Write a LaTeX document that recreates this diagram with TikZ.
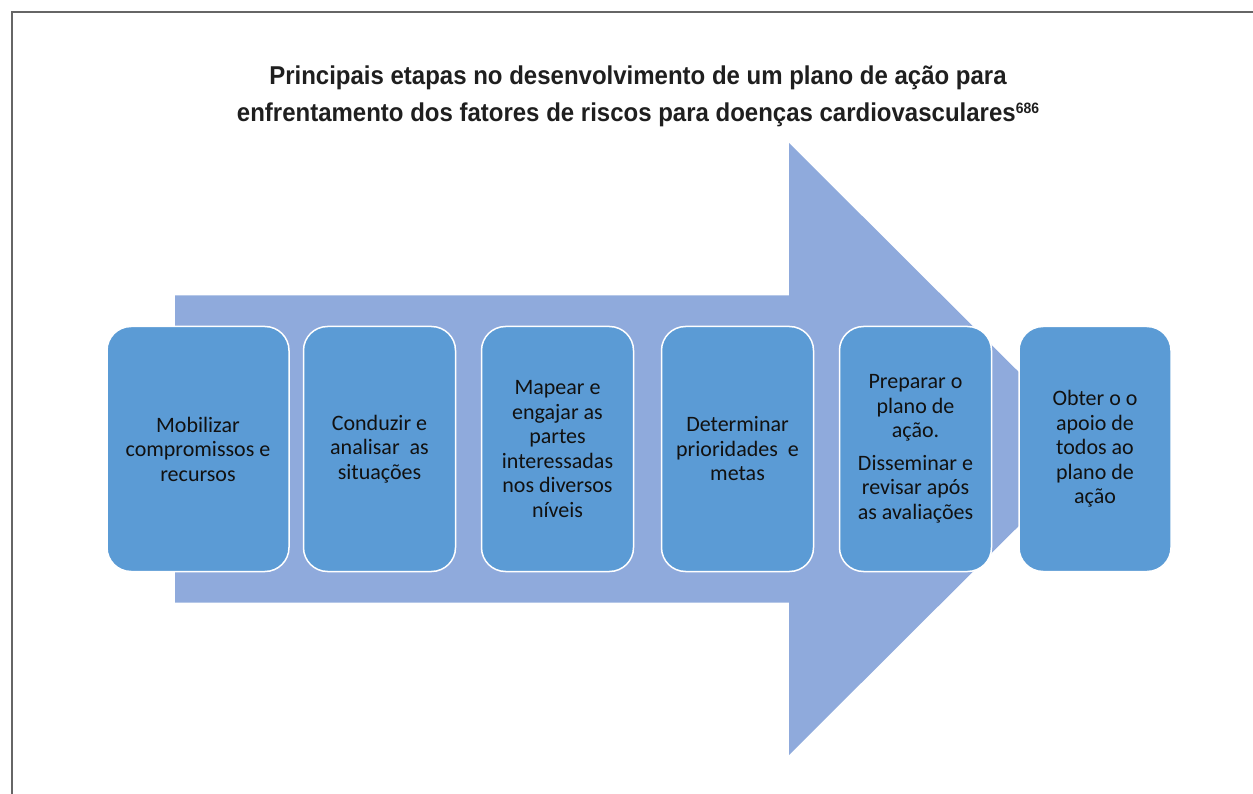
\documentclass[tikz,border=0pt]{standalone}
\usepackage{fontspec}
\usepackage{xcolor}
\setmainfont{Carlito}
\newfontfamily\titlefont[FakeStretch=0.93]{Liberation Sans}

\definecolor{arrowblue}{HTML}{8FAADC}
\definecolor{boxblue}{HTML}{5B9BD5}
\definecolor{txtdark}{HTML}{111111}

\begin{document}
\begin{tikzpicture}[x=1pt, y=-1pt,
    stagebox/.style={rectangle, draw=white, line width=1.5pt, fill=boxblue, rounded corners=24pt,
        minimum width=152pt, minimum height=245pt, inner sep=2pt, align=center, text=txtdark,
        font=\fontsize{22}{24.5}\selectfont},
    titletext/.style={align=center, text=black!88, font=\titlefont\bfseries\fontsize{25.8}{36.7}\selectfont}]

    \useasboundingbox (0,0) rectangle (1253,794);
    % frame of the page
    \draw[gray!80!black, line width=1.5pt] (12,794) -- (12,12) -- (1253,12);

    \node[titletext] (title) at (638,96) {Principais etapas no desenvolvimento de um plano de ação para\\
        enfrentamento dos fatores de riscos para doenças cardiovasculares{\fontsize{15}{15}\selectfont\raisebox{8pt}{686}}};

    % big arrow behind the stages
    \fill[arrowblue] (175,295.5) -- (789,295.5) -- (789,143) -- (1096,449)
        -- (789,755) -- (789,602.5) -- (175,602.5) -- cycle;

    \node[stagebox, minimum width=182pt] (mob) at (198,449) {Mobilizar\\compromissos e\\recursos};
    \node[stagebox] (cond) at (379.5,449) {Conduzir e\\analisar\ \ as\\situações};
    \node[stagebox] (map) at (557.5,449) {Mapear e\\engajar as\\partes\\interessadas\\nos diversos\\níveis};
    \node[stagebox] (det) at (737.5,449) {Determinar\\prioridades\ \ e\\metas};
    \node[stagebox] (prep) at (915.5,449) {Preparar o\\plano de\\ação.\\[8pt]Disseminar e\\revisar após\\as avaliações};
    \node[stagebox] (obt) at (1095,449) {Obter o o\\apoio de\\todos ao\\plano de\\ação};
\end{tikzpicture}
\end{document}
